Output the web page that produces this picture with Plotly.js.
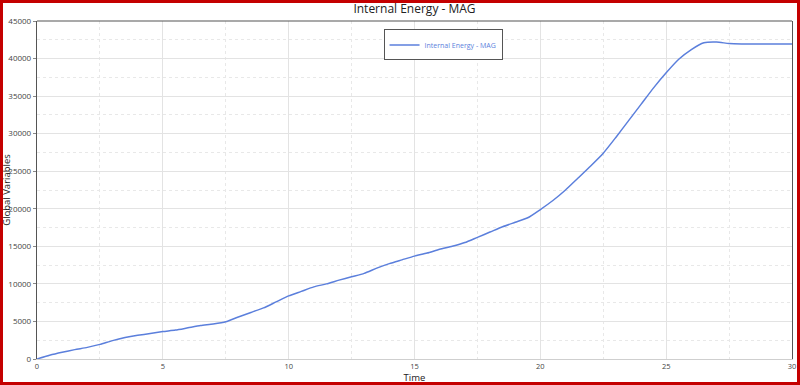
<!DOCTYPE html>
<html>
<head>
<meta charset="utf-8">
<script src="https://cdn.plot.ly/plotly-3.0.1.min.js"></script>
<style>
html,body{margin:0;padding:0;background:#fff;}
#wrap{position:relative;width:800px;height:385px;}
#plot{width:800px;height:385px;}
#frame{position:absolute;left:0;top:0;width:800px;height:385px;box-sizing:border-box;border:3px solid #c40000;pointer-events:none;}
</style>
</head>
<body>
<div id="wrap"><div id="plot"></div><div id="frame"></div></div>
<script>
const seriesName = "Internal Energy - MAG";
const time = [0,0.5,1,1.5,2,2.5,3,3.5,4,4.5,5,5.5,6,6.5,7,7.5,8,8.5,9,9.5,10,10.5,11,11.5,12,12.5,13,13.5,14,14.5,15,15.5,16,16.5,17,17.5,18,18.5,19,19.5,20,20.5,21,21.5,22,22.5,23,23.5,24,24.5,25,25.5,26,26.5,27,27.5,28,29,30];
const energy = [0,500,900,1250,1550,1950,2450,2850,3150,3400,3650,3850,4150,4450,4650,4950,5600,6200,6800,7600,8400,9000,9600,10000,10500,10950,11400,12100,12700,13200,13700,14100,14600,15000,15500,16200,16900,17600,18200,18800,19900,21100,22500,24100,25700,27400,29500,31700,33900,36100,38100,39900,41200,42100,42200,42000,41950,41950,41950];
const xTicks = [0,5,10,15,20,25,30];
const yTicks = [0,5000,10000,15000,20000,25000,30000,35000,40000,45000];

const trace = {
  x: time, y: energy, type: 'scatter', mode: 'lines', name: seriesName,
  line: {color: '#5b7fdc', width: 1.5, shape: 'spline', smoothing: 0.6}
};
const layout = {
  width: 800, height: 385,
  margin: {l: 37, r: 8, t: 21, b: 26},
  paper_bgcolor: '#ffffff', plot_bgcolor: '#ffffff',
  font: {family: 'Open Sans, Noto Sans, sans-serif', size: 9, color: '#444'},
  title: {text: 'Internal Energy - MAG', x: 0.5, xref: 'paper', y: 0.988, yanchor: 'top',
          font: {size: 12, color: '#222'}},
  showlegend: true,
  legend: {x: 0.459, y: 0.975, xanchor: 'left', yanchor: 'top', bgcolor: '#ffffff',
           bordercolor: '#555', borderwidth: 1, font: {size: 7, color: '#5b7fdc'},
           itemwidth: 30, tracegroupgap: 0},
  xaxis: {
    range: [0, 30], tickvals: xTicks, ticktext: xTicks.map(String),
    showgrid: true, gridcolor: '#e3e3e3', gridwidth: 1,
    minor: {dtick: 2.5, showgrid: true, gridcolor: '#e8e8e8', griddash: 'dot', ticks: ''},
    showline: true, linecolor: '#cfcfcf', linewidth: 1,
    ticks: '', zeroline: false,
    tickfont: {size: 7.5, color: '#444'},
    title: {text: 'Time', font: {size: 9.5, color: '#222'}, standoff: 3}
  },
  yaxis: {
    range: [0, 45000], tickvals: yTicks, ticktext: yTicks.map(String),
    showgrid: true, gridcolor: '#e3e3e3', gridwidth: 1,
    minor: {dtick: 2500, showgrid: true, gridcolor: '#e8e8e8', griddash: 'dot', ticks: ''},
    showline: true, mirror: true, linecolor: '#555', linewidth: 1.2,
    ticks: 'outside', ticklen: 3, tickcolor: '#888', zeroline: false,
    tickfont: {size: 8, color: '#444'},
    title: {text: 'Global Variables', font: {size: 9.5, color: '#222'}, standoff: 2}
  },
  shapes: [{type: 'line', xref: 'paper', yref: 'paper', x0: 0, x1: 1, y0: 1, y1: 1,
            line: {color: '#555', width: 1.2}}]
};
Plotly.newPlot('plot', [trace], layout, {displayModeBar: false, staticPlot: true});
</script>
</body>
</html>
